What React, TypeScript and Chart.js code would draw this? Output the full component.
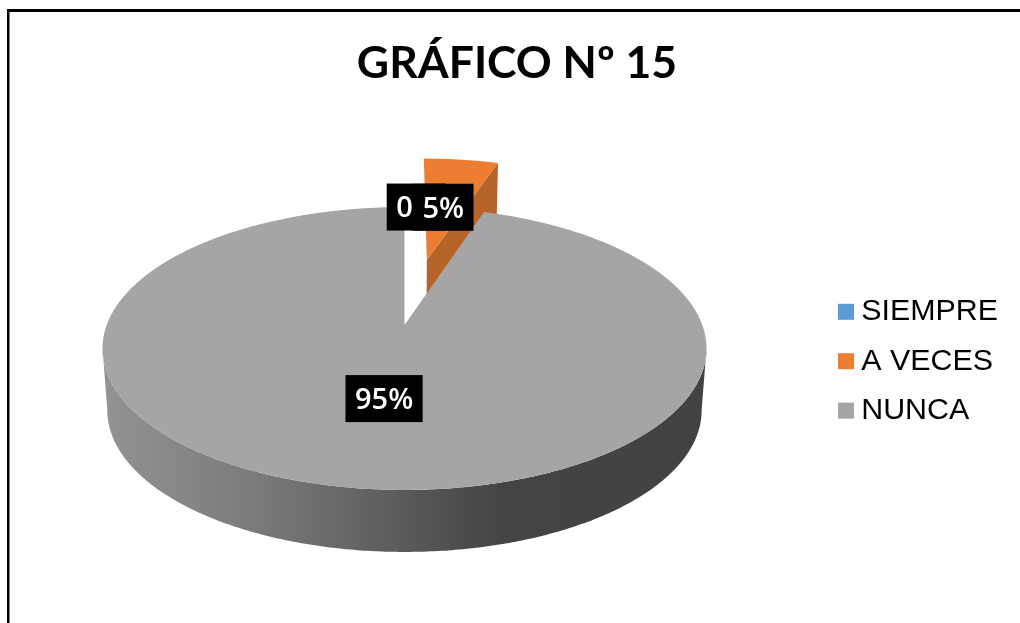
import React, { useEffect, useRef } from "react";
import { Chart, registerables } from "chart.js";

Chart.register(...registerables);

const chartTitle = "GRÁFICO Nº 15";
const categories = ["SIEMPRE", "A VECES", "NUNCA"];
const seriesValues = [0, 5, 95];
const sliceColors = ["#5B9BD5", "#ED7D31", "#A5A5A5"];
const sliceExplode = [0, 0.52, 0];
const labelRadius = [0.99, 0.5, 0.51];
const labelNudgeX = [0, -2, 5.5];
const labelNudgeY = [-1, 1, -2];

// Camera: a perspective view of the pie plane (u right, v away from viewer, unit radius).
const CAM = { cx: 404.5, k: 297.8, a: -83.6, b: 325, c: 0.166 };
const DEPTH = 62;
const LOWER_K = 293;
const TAU = Math.PI * 2;
const SIDE_ANGLE = Math.PI / 2 + Math.asin(CAM.c);

function topPoint(u: number, v: number) {
  const w = 1 + CAM.c * v;
  return { x: CAM.cx + (CAM.k * u) / w, y: (CAM.a * v + CAM.b) / w };
}
function lowerPoint(u: number, v: number) {
  const w = 1 + CAM.c * v;
  return { x: CAM.cx + (LOWER_K * u) / w, y: (CAM.a * v + CAM.b) / w + DEPTH };
}
function clockAngle(a: number) {
  return a + Math.PI / 2;
}

function tracePath(ctx: CanvasRenderingContext2D, pts: { x: number; y: number }[]) {
  pts.forEach((p, i) => (i === 0 ? ctx.moveTo(p.x, p.y) : ctx.lineTo(p.x, p.y)));
}

function rim(
  project: (u: number, v: number) => { x: number; y: number },
  ox: number,
  oy: number,
  from: number,
  to: number
) {
  const n = Math.max(2, Math.ceil(Math.abs(to - from) / 0.01));
  const pts = [];
  for (let i = 0; i <= n; i++) {
    const t = from + ((to - from) * i) / n;
    pts.push(project(ox + Math.sin(t), oy + Math.cos(t)));
  }
  return pts;
}

const pie3d = {
  id: "pie3d",
  beforeDraw(chart: any) {
    chart.titleBlock.left = 14;
    chart.titleBlock.right = chart.width;
    const ctx = chart.ctx as CanvasRenderingContext2D;
    ctx.save();
    ctx.fillStyle = "#ffffff";
    ctx.fillRect(0, 0, chart.width, chart.height);
    ctx.fillStyle = "#000000";
    ctx.fillRect(7, 9, chart.width - 7, 3);
    ctx.fillRect(7, 9, 2.5, chart.height - 9);
    ctx.restore();
  },
  beforeDatasetsDraw(chart: any) {
    const ctx = chart.ctx as CanvasRenderingContext2D;
    const arcs = chart.getDatasetMeta(0).data;
    const order = arcs
      .map((_: any, i: number) => i)
      .filter((i: number) => seriesValues[i] > 0)
      .sort((p: number, q: number) => sliceExplode[q] - sliceExplode[p]);

    order.forEach((i: number) => {
      const arc = arcs[i];
      const start = clockAngle(arc.startAngle);
      const end = clockAngle(arc.endAngle);
      const mid = (start + end) / 2;
      const ox = Math.sin(mid) * sliceExplode[i];
      const oy = Math.cos(mid) * sliceExplode[i];

      // rim wall on the viewer's side
      const wallFrom = Math.max(start, SIDE_ANGLE);
      const wallTo = Math.min(end, TAU - SIDE_ANGLE);
      if (wallTo > wallFrom) {
        const g = ctx.createLinearGradient(102, 0, 706, 0);
        g.addColorStop(0, "#939393");
        g.addColorStop(0.25, "#7b7b7b");
        g.addColorStop(0.5, "#5a5a5a");
        g.addColorStop(0.66, "#444444");
        g.addColorStop(1, "#424242");
        ctx.beginPath();
        tracePath(ctx, [
          ...rim(topPoint, ox, oy, wallFrom, wallTo),
          ...rim(lowerPoint, ox, oy, wallTo, wallFrom),
        ]);
        ctx.closePath();
        ctx.fillStyle = g;
        ctx.fill();
      }

      // cut face at the slice's trailing edge, when it looks towards the viewer
      if (sliceExplode[i] > 0) {
        const a0 = topPoint(ox, oy);
        const a1 = lowerPoint(ox, oy);
        const e0 = topPoint(ox + Math.sin(end), oy + Math.cos(end));
        const e1 = lowerPoint(ox + Math.sin(end), oy + Math.cos(end));
        ctx.beginPath();
        tracePath(ctx, [a0, e0, e1, a1]);
        ctx.closePath();
        ctx.fillStyle = "#B6642A";
        ctx.fill();
      }

      // top face
      ctx.beginPath();
      tracePath(ctx, [topPoint(ox, oy), ...rim(topPoint, ox, oy, start, end)]);
      ctx.closePath();
      ctx.fillStyle = arc.options.backgroundColor;
      ctx.fill();
    });
    return false;
  },
  afterDraw(chart: any) {
    const ctx = chart.ctx as CanvasRenderingContext2D;
    const arcs = chart.getDatasetMeta(0).data;

    // value labels
    ctx.save();
    ctx.font = "600 29px 'Open Sans'";
    ctx.textBaseline = "middle";
    ctx.textAlign = "left";
    arcs.forEach((arc: any, i: number) => {
      const start = clockAngle(arc.startAngle);
      const end = clockAngle(arc.endAngle);
      const mid = (start + end) / 2;
      const r = labelRadius[i] + sliceExplode[i];
      const p = topPoint(Math.sin(mid) * r, Math.cos(mid) * r);
      const cx = p.x + labelNudgeX[i];
      const cy = p.y + labelNudgeY[i];
      const text = seriesValues[i] === 0 ? String(seriesValues[i]) : `${seriesValues[i]}%`;
      const tw = ctx.measureText(text).width;
      const pad = 9.5;
      const left = cx - tw / 2 - pad;
      const bw = Math.max(tw + pad * 2, 59);
      ctx.fillStyle = "#000000";
      ctx.fillRect(left, cy - 23.5, bw, 47);
      ctx.fillStyle = "#ffffff";
      ctx.fillText(text, left + pad, cy + 2);
    });
    ctx.restore();

    // legend swatches beside the library's legend texts
    ctx.save();
    chart.legend.legendHitBoxes.forEach((box: any, i: number) => {
      ctx.fillStyle = sliceColors[i];
      ctx.fillRect(box.left - 8, box.top + box.height / 2 - 8, 16, 16);
    });
    ctx.restore();
  },
};

export default function App() {
  const ref = useRef<HTMLCanvasElement>(null);
  useEffect(() => {
    const chart = new Chart(ref.current as HTMLCanvasElement, {
      type: "pie",
      data: {
        labels: categories,
        datasets: [{ data: seriesValues, backgroundColor: sliceColors, borderWidth: 0 }],
      },
      options: {
        animation: false,
        responsive: false,
        layout: { padding: { left: 14, right: 12, top: 0, bottom: 0 } },
        plugins: {
          tooltip: { enabled: false },
          title: {
            display: true,
            text: chartTitle,
            color: "#000000",
            font: { family: "Lato", weight: "bold", size: 44.5 },
            padding: { top: 37, bottom: 9 },
          },
          legend: {
            position: "right",
            fullSize: false,
            labels: {
              boxWidth: 0,
              boxHeight: 0,
              padding: 19,
              color: "#000000",
              font: { family: "'Liberation Sans'", size: 30.4 },
            },
          },
        },
      },
      plugins: [pie3d],
    } as any);
    return () => chart.destroy();
  }, []);
  return (
    <canvas
      ref={ref}
      width={1020}
      height={623}
      style={{ position: "fixed", left: 0, top: 0, display: "block" }}
    />
  );
}
